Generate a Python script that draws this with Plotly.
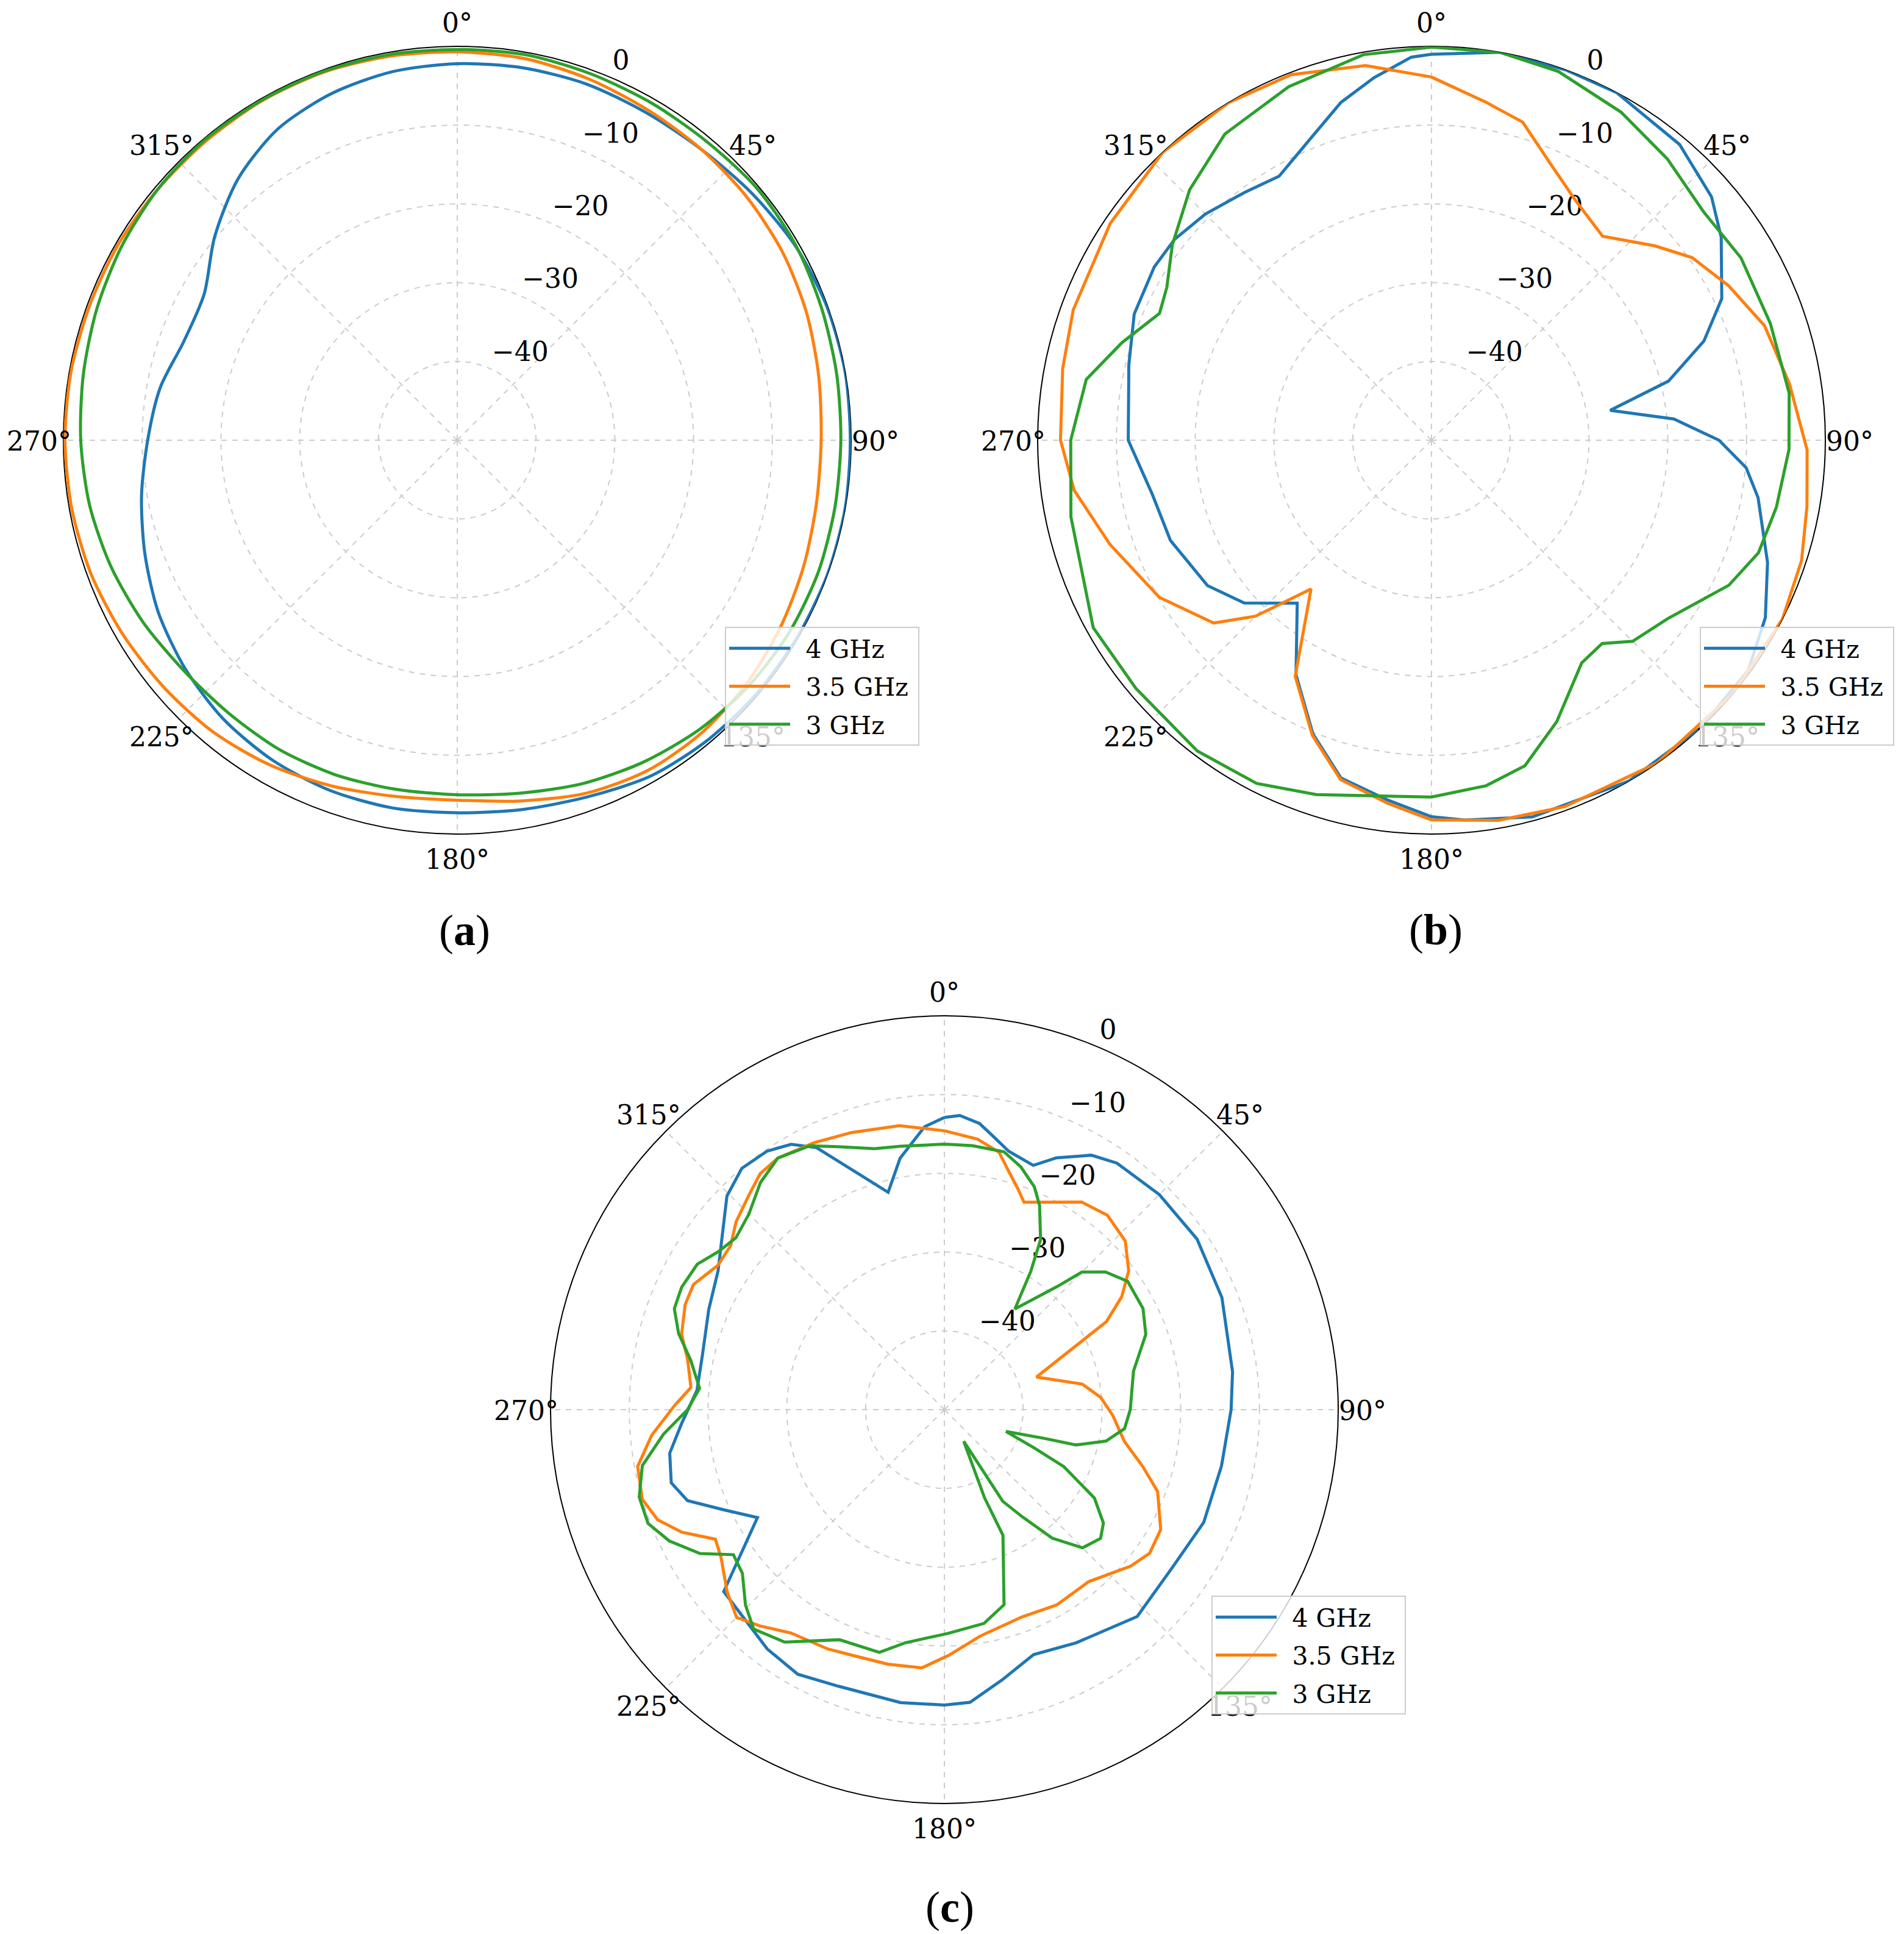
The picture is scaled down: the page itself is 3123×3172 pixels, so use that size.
import plotly.graph_objects as go

# ---- data: gain (dB) vs angle (deg), read from the three radiation patterns ----
# (a)
a_4_theta = [0, 10, 20, 30, 40, 50, 60, 70, 80, 90, 100, 110, 120, 130, 140, 150, 160, 170,
             180, 190, 200, 210, 220, 230, 240, 250, 260, 270, 280, 290, 300, 310, 320, 330, 340, 350, 360]
a_4_r = [-2.2, -2.0, -1.9, -2.0, -1.8, -1.2, -0.5, -0.1, 0.0, -0.1, 0.0, 0.0, -0.1, -0.2, -0.4, -0.8, -1.8, -2.4,
         -2.7, -2.6, -2.7, -3.1, -3.8, -4.9, -6.2, -7.8, -9.3, -10.7, -11.7, -13.1, -12.9, -9.8, -6.7, -4.4, -3.2, -2.5, -2.2]
a_35_theta = a_4_theta
a_35_r = [-0.7, -0.8, -1.2, -1.6, -1.8, -2.0, -2.3, -2.8, -3.4, -3.8, -3.7, -3.2, -2.6, -2.0, -1.6, -1.6, -2.3, -3.5,
          -4.3, -4.1, -3.3, -2.4, -1.7, -1.3, -0.9, -0.5, -0.3, -0.2, -0.2, -0.3, -0.3, -0.4, -0.4, -0.3, -0.3, -0.5, -0.7]
a_3_theta = a_4_theta
a_3_r = [-0.4, -0.3, -0.5, -0.6, -0.6, -0.3, -0.4, -0.8, -1.1, -1.3, -1.3, -1.2, -1.3, -1.6, -2.1, -2.8, -3.6, -4.5,
         -5.0, -5.0, -4.8, -4.7, -4.8, -4.6, -3.9, -3.2, -2.6, -2.2, -1.8, -1.3, -0.8, -0.4, -0.2, -0.2, -0.2, -0.3, -0.4]

# (b)
b_4_theta = [0, 10, 20, 28, 40, 49, 55, 64, 70, 76, 80.5, 85, 90, 95, 100, 110, 118, 126, 137, 150, 165, 175,
             180, 187, 195, 202, 210, 219.5, 229, 237, 249, 259, 270, 284, 293, 302, 308, 315, 323, 330, 338, 345, 351, 357, 360]
b_4_r = [-1.0, 0.0, 0.0, 0.0, -1.0, -2.9, -5.1, -9.0, -13.2, -19.0, -27.0, -19.1, -13.5, -9.9, -7.9, -4.6, -2.0, -0.3, 0.0, 0.0, -0.5, -1.6,
         -2.2, -4.0, -5.6, -9.8, -15.6, -23.2, -18.5, -16.1, -14.5, -13.9, -11.5, -10.4, -9.0, -8.5, -8.6, -9.4, -10.6, -11.3, -8.8, -5.6, -3.4, -1.3, -1.0]
b_35_theta = [0, 9, 16, 24, 31, 40, 49, 55, 62.5, 71, 81, 91.5, 100, 108, 117, 130, 145, 160, 170,
              180, 187, 195, 202, 210, 219, 225, 230, 240, 252, 262, 270, 281, 290, 304, 317, 329, 339, 350, 360]
b_35_r = [-3.9, -6.5, -8.0, -12.1, -14.5, -16.2, -12.4, -9.6, -7.5, -5.3, -4.0, -2.3, -1.6, -0.6, 0.0, 0.0, 0.0, -0.5, -1.0,
          -1.8, -3.6, -5.4, -9.6, -15.4, -25.7, -18.4, -13.9, -10.1, -7.1, -4.2, -2.9, -2.3, -1.6, -0.8, 0.0, 0.0, -0.3, -1.7, -3.9]
b_3_theta = [0, 10, 19, 30, 40, 50, 59.5, 71, 82.5, 91.5, 101, 109, 116, 127, 135, 140, 146, 156, 164, 171,
             180, 198, 207, 217, 230, 241, 258, 270, 280, 287.5, 295, 300, 307, 316, 326, 338, 350, 360]
b_3_r = [-0.1, 0.0, -0.5, -1.9, -3.4, -4.9, -4.4, -4.5, -4.2, -4.6, -5.4, -6.1, -8.0, -12.4, -13.9, -16.3, -15.9, -10.9, -7.0, -5.6,
         -4.7, -2.7, -1.1, -0.6, -1.0, -0.9, -3.2, -4.2, -5.5, -8.8, -11.9, -11.2, -8.8, -5.8, -3.1, -1.6, -0.3, -0.1]

# (c)
c_4_theta = [0, 3, 7, 10, 14, 20, 24, 30, 35, 45, 56, 68, 82.5, 90, 101.5, 113.5, 124.5, 137, 150.5, 160, 168, 175,
             180, 188.5, 201, 209, 216.5, 230.5, 240, 245.5, 250.5, 255, 261, 267, 274.5, 283, 293, 301.5,
             314.5, 320, 325.5, 330, 334, 345.5, 350, 356, 360]
c_4_r = [-12.9, -12.6, -13.4, -14.7, -16.2, -17.0, -15.0, -12.7, -11.8, -11.4, -11.3, -12.0, -13.1, -13.6, -14.1, -14.1, -14.8, -14.1, -16.0, -16.9, -14.9, -12.7,
         -12.5, -12.4, -12.4, -11.6, -12.2, -13.7, -22.6, -19.3, -15.4, -14.1, -14.7, -16.6, -18.5, -18.5, -17.5, -16.3,
         -11.3, -10.0, -10.2, -11.1, -13.0, -21.5, -17.6, -14.0, -12.9]
c_35_theta = [0, 7, 12, 15, 18.5, 21, 27.5, 33.5, 40, 47, 53, 57.5, 61.5, 70.5, 79.5, 85.5, 92, 100, 106, 111, 119, 125, 130,
              140, 150, 159.5, 171, 179, 185, 192.5, 200.5, 206, 214.5, 220.5, 225, 230, 236.5, 240.5, 245, 249, 253.5,
              259.5, 265, 271, 275, 281, 286, 292, 296.5, 302.5, 307.5, 312, 317.5, 322, 326.5, 334, 341.5, 351, 360]
c_35_r = [-14.6, -15.4, -16.6, -18.6, -20.5, -21.8, -20.3, -18.4, -17.8, -18.6, -20.7, -23.3, -26.6, -37.6, -32.2, -30.1, -28.6, -26.8, -23.8, -21.0, -18.6, -18.2, -19.1,
          -21.5, -21.4, -21.9, -20.9, -18.8, -17.1, -16.9, -16.7, -16.2, -15.6, -13.9, -12.7, -14.0, -16.0, -16.6, -13.2, -11.0, -10.0,
          -10.4, -12.7, -15.8, -17.7, -16.8, -15.3, -14.5, -14.4, -15.9, -15.8, -14.4, -13.2, -12.0, -11.7, -12.3, -12.9, -13.5, -14.6]
c_3_theta = [0, 6, 13, 17.5, 22, 25, 29.5, 32, 35, 42.5, 45, 49.5, 55, 63, 69.5, 78.5, 90, 96, 101, 105, 106, 109.5, 113,
             115.5, 120.5, 125.5, 129.5, 135, 140, 144, 147.5, 148.5, 155.5, 155, 163, 169.5, 179, 189.5, 195, 204.5,
             214.5, 221, 225.5, 231, 235.5, 239.5, 244.5, 249, 254, 259.5, 265, 270, 275, 281, 286, 290.5, 295,
             300.5, 305, 309.5, 315, 321, 326.5, 333, 338, 345, 350.5, 360]
c_3_r = [-16.3, -16.3, -16.4, -17.7, -19.5, -21.4, -25.2, -29.3, -34.4, -28.8, -25.3, -23.1, -21.6, -21.7, -22.7, -25.5, -26.4, -27.0, -29.1, -32.7, -36.7, -41.7, -37.7,
         -33.2, -27.9, -25.2, -24.3, -25.2, -28.7, -33.2, -36.2, -45.3, -37.7, -32.4, -24.1, -22.4, -21.6, -20.0, -18.1, -17.9,
         -14.2, -13.1, -14.6, -17.0, -17.5, -14.0, -11.3, -9.7, -9.7, -11.0, -14.2, -17.4, -18.8, -17.2, -14.9, -13.4, -13.2,
         -13.6, -15.0, -15.7, -14.9, -12.9, -11.7, -12.4, -14.0, -15.7, -16.1, -16.3]

series_names = ["4 GHz", "3.5 GHz", "3 GHz"]
series_colors = ["#1f77b4", "#ff7f0e", "#2ca02c"]
r_ticks = [-40, -30, -20, -10, 0]
r_tick_text = ["\u221240", "\u221230", "\u221220", "\u221210", "0"]
r_label_angle = 22.5
theta_ticks = [0, 45, 90, 135, 180, 225, 270, 315]
theta_tick_text = ["0\u00b0", "45\u00b0", "90\u00b0", "135\u00b0", "180\u00b0", "225\u00b0", "270\u00b0", "315\u00b0"]
theta_label_r = 3.1  # labels centred a little outside the 0 dB rim, as matplotlib does
captions = ["a", "b", "c"]

panels = [
    [(a_4_theta, a_4_r), (a_35_theta, a_35_r), (a_3_theta, a_3_r)],
    [(b_4_theta, b_4_r), (b_35_theta, b_35_r), (b_3_theta, b_3_r)],
    [(c_4_theta, c_4_r), (c_35_theta, c_35_r), (c_3_theta, c_3_r)],
]
smooth = [True, False, False]

W, H = 3123, 3172
SERIF = "DejaVu Serif"
TICK_FONT = dict(family=SERIF, size=44, color="black")
R_MIN, R_MAX, R_LABEL_MAX = -50, 0, 4

fig = go.Figure()

# panel centres / radius in pixels (page body adds an 8 px offset)
centres = [(742, 714), (2340, 714), (1541, 2304)]
R = 646
R_lab = R * (R_LABEL_MAX - R_MIN) / (R_MAX - R_MIN)
LABEL_DY = 6  # text boxes sit a bit high, nudge the label ring down
legend_boxes = [(1500, 1020), (3099, 1020), (2298, 2609)]  # right, top (px)
caption_pos = [(754, 1518), (2347, 1517), (1550, 3120)]


def dom(cx, cy, rad):
    return dict(x=[(cx - rad) / W, (cx + rad) / W],
                y=[(H - cy - rad) / H, (H - cy + rad) / H])


for i, series in enumerate(panels):
    polar_id = "polar" if i == 0 else "polar%d" % (i + 1)
    label_id = "polar%d" % (i + 4)
    legend_id = "legend" if i == 0 else "legend%d" % (i + 1)

    # radial tick labels, horizontal, right of the 22.5 deg line (under the curves)
    fig.add_trace(go.Scatterpolar(
        r=r_ticks, theta=[r_label_angle] * len(r_ticks),
        text=["\u2006" + t for t in r_tick_text],
        mode="text", textposition="top right", textfont=TICK_FONT,
        cliponaxis=False, showlegend=False, hoverinfo="skip", subplot=polar_id,
    ))

    for k, ((th, rr), name, col) in enumerate(zip(series, series_names, series_colors)):
        fig.add_trace(go.Scatterpolar(
            theta=th, r=rr, mode="lines", name="\u2002" + name + "\u2005",
            line=dict(color=col, width=5, shape="spline" if smooth[i] else "linear",
                      smoothing=0.8),
            subplot=polar_id, legend=legend_id, legendgroup="g%d%d" % (i, k),
        ))

    # angular tick labels: same dB scale, radial range extended past the rim
    fig.add_trace(go.Scatterpolar(
        r=[theta_label_r] * len(theta_ticks), theta=theta_ticks, text=theta_tick_text,
        mode="text", textposition="middle center", textfont=TICK_FONT,
        cliponaxis=False, showlegend=False, hoverinfo="skip", subplot=label_id,
    ))

    cx, cy = centres[i]
    fig.layout[polar_id] = dict(
        domain=dom(cx, cy, R),
        bgcolor="white",
        radialaxis=dict(range=[R_MIN, R_MAX], tickvals=r_ticks, showticklabels=False,
                        showline=False, ticks="",
                        gridcolor="#cccccc", gridwidth=2,
                        griddash="dash", layer="below traces"),
        angularaxis=dict(direction="clockwise", rotation=90,
                         tickvals=theta_ticks, showticklabels=False, ticks="",
                         showline=True, linecolor="black", linewidth=2,
                         gridcolor="#cccccc", gridwidth=2, griddash="dash",
                         layer="below traces"),
    )
    fig.layout[label_id] = dict(
        domain=dom(cx, cy + LABEL_DY, R_lab),
        bgcolor="rgba(0,0,0,0)",
        radialaxis=dict(range=[R_MIN, R_LABEL_MAX], visible=False),
        angularaxis=dict(direction="clockwise", rotation=90, visible=False),
    )

    lx, ly = legend_boxes[i]
    fig.layout[legend_id] = dict(
        x=lx / W, y=1 - ly / H, xanchor="right", yanchor="top",
        bgcolor="rgba(255,255,255,0.8)", bordercolor="#cccccc", borderwidth=2,
        font=dict(family=SERIF, size=41, color="black"),
        itemwidth=100, tracegroupgap=6,
    )
    px, py = caption_pos[i]
    fig.add_annotation(x=px / W, y=1 - py / H, xref="paper", yref="paper",
                       xanchor="center", yanchor="middle",
                       text="(<b>%s</b>)" % captions[i], showarrow=False,
                       font=dict(family="Liberation Serif", size=72, color="black"))

fig.update_layout(width=W, height=H, margin=dict(l=0, r=0, t=0, b=0),
                  paper_bgcolor="white", showlegend=True)

fig.write_html("out.html")
